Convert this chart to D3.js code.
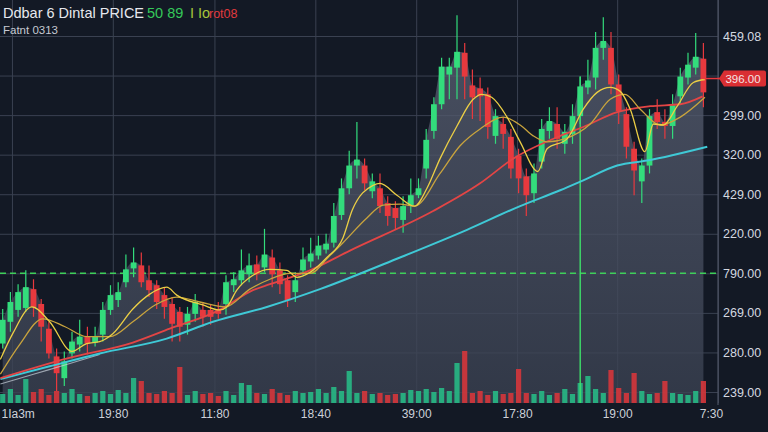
<!DOCTYPE html>
<html>
<head>
<meta charset="utf-8">
<script src="https://cdn.jsdelivr.net/npm/d3@7"></script>
<style>
    html, body { margin: 0; padding: 0; background: #141a26; }
    svg { display: block; }
    text { font-family: "Liberation Sans", Arial, sans-serif; }
</style>
</head>
<body>
<svg id="chart" width="768" height="432"></svg>
<script>
// candle values, one per bar
const opens = [89,111,123,125,144,129,104,76,54,79, 88,96,90,98,123,133,151,165,168,153,
    148,138,129,121,108,119,123,123,124,129, 148,153,159,169,166,176,163,153,141,163,
    172,178,184,191,219,246,269,269,243,246, 231,226,214,229,239,266,304,331,361,368,
    383,350,347,341,299,311,298,279,258,241, 273,304,311,291,301,319,348,358,388,388,
    351,321,286,253,269,323,313,309,339,358, 368,377];
const closes = [113,131,141,146,126,106,79,59,71,91, 96,89,96,123,138,141,164,171,151,143,
    131,126,109,106,119,131,116,116,119,151, 154,163,168,159,179,159,149,133,153,174,
    180,188,190,218,246,269,275,251,253,228, 218,216,228,239,246,295,331,369,369,384,
    359,338,339,308,319,301,266,256,239,261, 306,314,296,303,319,349,355,388,395,351,
    324,288,264,269,319,313,309,330,359,371, 379,343];
const highs = [124,141,149,163,154,134,111,84,81,101, 113,106,106,131,148,151,179,186,181,168,
    153,146,136,126,126,139,131,129,131,158, 161,184,180,178,205,184,171,158,161,186,
    196,198,200,231,256,284,313,276,261,261, 238,233,238,256,256,306,338,378,378,421,
    393,366,358,348,326,318,306,286,266,271, 316,328,328,311,331,359,376,404,419,404,
    361,328,293,276,326,336,326,341,368,383, 403,393];
const lows = [84,101,116,121,116,91,74,41,46,74, 81,78,86,91,118,126,146,156,146,136,
    124,114,91,91,98,111,106,108,114,118, 141,148,151,153,161,146,139,126,131,158,
    166,174,180,186,214,240,256,244,236,221, 208,204,201,221,236,256,296,326,336,336,
    336,316,314,296,291,286,256,241,218,231, 266,296,286,281,291,311,341,346,376,341,
    311,276,239,231,261,306,296,296,331,351, 361,328];
const volumes = [9,14,8,24,11,14,8,12,10,14, 9,7,10,12,9,13,10,25,22,10,
    9,12,10,36,8,12,9,10,7,12, 8,20,18,10,9,14,10,8,12,10,
    11,14,10,16,12,32,10,12,9,10, 8,9,10,13,12,14,11,15,12,40,
    52,10,12,8,12,9,10,34,10,9, 12,8,10,14,9,20,27,14,10,33,
    15,10,30,12,9,10,22,10,9,8, 12,22];

// moving average lines, [bar index, value]
const maFast = [[-0.3,73],[1.3,99],[3.8,126],[6.1,111],[9,81],[10.9,89],[12.6,91],[14.3,99],
    [16.9,124],[19.1,139],[21.3,146],[22.6,138],[26,128],[28.2,123],[29.1,126],[30.4,143],
    [32.5,158],[34.7,164],[36.9,163],[38.2,156],[39.9,161],[42.1,176],[44.2,196],[45.4,224],
    [48.1,249],[49,251],[51.2,239],[53.5,228],[55.1,246],[56.8,276],[59,309],[61.1,336],
    [62.2,341],[63.5,338],[65.5,318],[67.2,293],[69.5,263],[70.7,286],[73.3,296],[75.4,326],
    [77.2,343],[78.9,348],[80.2,344],[81.5,326],[83.4,283],[84.5,311],[85.8,310],[87.6,329],
    [89.7,353],[91.2,356]];
const maSlow = [[-0.3,58],[2.2,88],[5.2,114],[8.1,106],[10.9,96],[13.9,96],[16.9,111],[19.8,128],
    [22.6,136],[25.6,131],[28.9,126],[32.1,144],[34.7,154],[37.3,160],[39.9,160],[42.5,178],
    [44.2,191],[47.3,216],[49.4,229],[51.6,230],[53.5,228],[56.8,261],[59.4,289],[62,306],
    [65,318],[67.2,310],[68.9,299],[70.7,293],[73,296],[76.3,311],[78.9,336],[80.8,341],
    [82.8,326],[85.4,310],[88,318],[91.2,338]];
const maMid = [[-0.3,54],[8.4,74],[16.9,90],[21.7,104],[28.2,123],[32.5,143],[34.7,149],[39.9,163],
    [45.1,183],[55.9,223],[62,251],[66.3,276],[72.4,299],[75.4,308],[79.8,323],[84.1,329],
    [88,331],[90.9,339]];
const maLong = [[-0.3,53],[6.1,66],[12.6,79],[21.3,94],[27.3,111],[34.3,126],[41.2,144],[51.6,176],
    [60.3,204],[67.2,228],[72.4,244],[75.4,254],[79.8,269],[83.7,274],[91.5,288]];
const maLongPale = [[-0.3,48],[4,58],[8.4,68],[12.6,78]];

const priceTicks = [40, 80, 120, 160, 200, 240, 280, 320, 360, 400];
const priceLabels = ["239.00", "280.00", "269.00", "790.00", "220.00", "429.00", "320.00", "299.00", "", "459.08"];
const timeTicks = [1.2, 14.3, 27.5, 40.6, 53.7, 66.8, 79.8, 92.9];
const timeLabels = ["1Ia3m", "19:80", "11:80", "18:40", "39:00", "17:80", "19:00", "7:30"];
const supportLevel = 160;
const lastPrice = 357;
const lastPriceLabel = "396.00";
const markerBar = 75;

const green = "#33dc7c", red = "#e8393e";

const svg = d3.select("#chart");
const W = 768, plotRight = 718, volBase = 403;

const x = d3.scaleLinear().domain([0, 91]).range([2.7, 703.4]);
const y = d3.scaleLinear().domain([40, 400]).range([392, 36]);
const yVol = d3.scaleLinear().domain([0, 60]).range([volBase, volBase - 60]);

svg.append("rect").attr("width", W).attr("height", 432).attr("fill", "#131925");

// grid
const gy = svg.append("g")
    .call(d3.axisLeft(y).tickValues(priceTicks).tickSize(-plotRight).tickFormat(""));
gy.select(".domain").remove();
gy.selectAll("line").attr("stroke", "#3a4151").attr("stroke-width", 1);

const lastT = timeLabels.length - 1;
const gx = svg.append("g")
    .attr("transform", `translate(0,${volBase})`)
    .call(d3.axisBottom(x).tickValues(timeTicks).tickSize(-volBase).tickPadding(6)
        .tickFormat((d, i) => timeLabels[i]));
gx.select(".domain").remove();
gx.selectAll("line").attr("stroke", "#3a4151").attr("stroke-width", 1);
gx.selectAll("text").attr("fill", "#cdd1d9").attr("font-size", 12)
    .attr("text-anchor", (d, i) => i === 0 ? "start" : "middle")
    .attr("dx", (d, i) => i === 0 ? -x(timeTicks[0]) + 1 : (i === lastT ? -7 : 0));

// right axis
const gr = svg.append("g")
    .attr("transform", `translate(${plotRight},0)`)
    .call(d3.axisRight(y).tickValues(priceTicks).tickSize(0).tickPadding(5)
        .tickFormat((d, i) => priceLabels[i]));
gr.select(".domain").remove();
gr.selectAll("text").attr("fill", "#d4d8e0").attr("font-size", 12.5);

svg.append("line")
    .attr("x1", plotRight).attr("x2", plotRight).attr("y1", 0).attr("y2", volBase + 2)
    .attr("stroke", "#4c5363").attr("stroke-width", 1.2);

// shaded area under price
const grad = svg.append("defs").append("linearGradient")
    .attr("id", "areaFill").attr("gradientUnits", "userSpaceOnUse")
    .attr("x1", 0).attr("x2", 0).attr("y1", 40).attr("y2", volBase);
grad.append("stop").attr("offset", 0).attr("stop-color", "#596073").attr("stop-opacity", 0.75);
grad.append("stop").attr("offset", 1).attr("stop-color", "#394050").attr("stop-opacity", 0.8);

const bars = opens.map((o, i) => ({i, o, c: closes[i], h: highs[i], l: lows[i], v: volumes[i]}));

svg.append("path")
    .datum(bars)
    .attr("fill", "url(#areaFill)")
    .attr("d", d3.area()
        .x(d => x(d.i))
        .y0(volBase)
        .y1(d => y(Math.max(d.o, d.c)))
        .curve(d3.curveMonotoneX));

// support line
svg.append("line")
    .attr("x1", 0).attr("x2", plotRight)
    .attr("y1", y(supportLevel)).attr("y2", y(supportLevel))
    .attr("stroke", "#3fcf5a").attr("stroke-width", 1.5).attr("stroke-dasharray", "6,4");

// volume
svg.append("g").selectAll("rect")
    .data(bars)
    .join("rect")
    .attr("x", d => x(d.i) - 2.6)
    .attr("width", 5.2)
    .attr("y", d => yVol(d.v))
    .attr("height", d => volBase - yVol(d.v))
    .attr("fill", d => d.c >= d.o ? "#27b985" : "#d5363b")
    .attr("opacity", 0.9);

// marker line
svg.append("line")
    .attr("x1", x(markerBar)).attr("x2", x(markerBar))
    .attr("y1", y(highs[markerBar])).attr("y2", volBase)
    .attr("stroke", "#3ee06a").attr("stroke-width", 1.4);

// candles
const candle = svg.append("g").selectAll("g")
    .data(bars)
    .join("g")
    .attr("fill", d => d.c >= d.o ? green : red)
    .attr("stroke", d => d.c >= d.o ? green : red);

candle.append("line")
    .attr("x1", d => x(d.i)).attr("x2", d => x(d.i))
    .attr("y1", d => y(d.h)).attr("y2", d => y(d.l))
    .attr("stroke-width", 1.2);

candle.append("rect")
    .attr("stroke", "none")
    .attr("x", d => x(d.i) - 2.9)
    .attr("width", 5.8)
    .attr("y", d => y(Math.max(d.o, d.c)))
    .attr("height", d => Math.max(2, Math.abs(y(d.o) - y(d.c))));

// moving averages
const line = d3.line().x(d => x(d[0])).y(d => y(d[1])).curve(d3.curveMonotoneX);
const maStyles = [
    {data: maLongPale, color: "#c9d2dc", width: 1.1, opacity: 0.7},
    {data: maLong, color: "#3fc9d6", width: 2, opacity: 1},
    {data: maMid, color: "#e34545", width: 1.8, opacity: 1},
    {data: maSlow, color: "#c9a43d", width: 1.3, opacity: 1},
    {data: maFast, color: "#eccf45", width: 1.3, opacity: 1}
];
maStyles.forEach(s => {
    svg.append("path")
        .attr("d", line(s.data))
        .attr("fill", "none")
        .attr("stroke", s.color)
        .attr("stroke-opacity", s.opacity)
        .attr("stroke-width", s.width);
});

// last price tag
const yp = y(lastPrice);
svg.append("line")
    .attr("x1", x(91)).attr("x2", plotRight + 4)
    .attr("y1", yp).attr("y2", yp)
    .attr("stroke", red).attr("stroke-width", 1.5);
svg.append("path")
    .attr("d", `M${plotRight + 1},${yp} L${plotRight + 6},${yp - 8} L764,${yp - 8} Q766,${yp - 8} 766,${yp - 6} L766,${yp + 6} Q766,${yp + 8} 764,${yp + 8} L${plotRight + 6},${yp + 8} Z`)
    .attr("fill", "#d92f33");
svg.append("text")
    .attr("x", 743).attr("y", yp + 4)
    .attr("text-anchor", "middle")
    .attr("font-size", 11.5)
    .attr("fill", "#f4e4e4")
    .text(lastPriceLabel);

// header
const title = svg.append("text")
    .attr("y", 18)
    .attr("font-size", 14.5);
title.append("tspan").attr("x", 3).attr("fill", "#e6e8ee").text("Ddbar 6 Dintal PRICE");
title.append("tspan").attr("x", 147).attr("fill", "#35c85a").text("50 89");
title.append("tspan").attr("x", 190).attr("fill", "#a6c43a").text("I Io");
title.append("tspan").attr("x", 209).attr("fill", "#e0393e").attr("font-size", 12.5).text("rot08");

svg.append("text")
    .attr("x", 3).attr("y", 34)
    .attr("font-size", 11.5)
    .attr("fill", "#c6cad2")
    .text("Fatnt 0313");
</script>
</body>
</html>
